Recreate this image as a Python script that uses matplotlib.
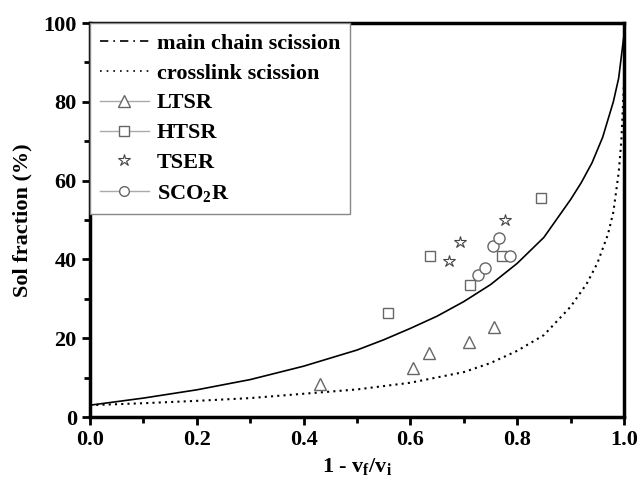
import numpy as np
import matplotlib
matplotlib.use('Agg')
from matplotlib import pyplot as plt
from matplotlib.lines import Line2D
from matplotlib.ticker import MultipleLocator, FormatStrFormatter

plt.rcParams['font.family'] = ['Liberation Serif', 'DejaVu Serif']
plt.rcParams['font.weight'] = 'bold'
plt.rcParams['mathtext.fontset'] = 'custom'
plt.rcParams['mathtext.rm'] = 'Liberation Serif:bold'
plt.rcParams['mathtext.it'] = 'Liberation Serif:bold'
plt.rcParams['mathtext.bf'] = 'Liberation Serif:bold'

# theory curves
main_x = [0.0, 0.1, 0.2, 0.3, 0.4, 0.5, 0.55, 0.6, 0.65, 0.7, 0.75, 0.8,
          0.85, 0.9, 0.92, 0.94, 0.96, 0.98, 0.99, 1.0]
main_y = [3.0, 4.8, 6.9, 9.5, 12.9, 17.0, 19.6, 22.5, 25.6, 29.3, 33.6, 39.0,
          45.6, 55.2, 59.5, 64.5, 71.0, 80.0, 86.0, 97.0]
cross_x = [0.0, 0.1, 0.2, 0.3, 0.4, 0.5, 0.6, 0.7, 0.75, 0.8, 0.85, 0.9,
           0.93, 0.95, 0.97, 0.98, 0.99, 0.995, 1.0]
cross_y = [3.0, 3.5, 4.1, 4.8, 5.9, 7.0, 8.7, 11.4, 13.7, 16.8, 20.8, 28.0,
           33.8, 39.0, 46.4, 52.0, 62.0, 70.0, 85.0]

# measurements
ltsr_x = [0.43, 0.605, 0.635, 0.709, 0.757]
ltsr_y = [8.3, 12.4, 16.3, 19.0, 22.9]
htsr_x = [0.559, 0.637, 0.712, 0.771, 0.845]
htsr_y = [26.5, 40.9, 33.5, 40.9, 55.6]
tser_x = [0.672, 0.693, 0.777]
tser_y = [39.7, 44.3, 49.9]
sco2r_x = [0.727, 0.740, 0.755, 0.766, 0.786]
sco2r_y = [36.1, 37.9, 43.3, 45.5, 40.9]

grey = '#666666'

fig = plt.figure(figsize=(6.4, 4.91), dpi=100)
ax = fig.add_axes([0.1406, 0.1507, 0.8344, 0.8023])

ax.plot(main_x, main_y, color='black', lw=1.2)
ax.plot(cross_x, cross_y, color='black', lw=1.5, linestyle=(0, (1, 2)))

ax.plot(ltsr_x, ltsr_y, linestyle='none', marker='^', ms=9, mfc='white', mec=grey, mew=1.0)
ax.plot(htsr_x, htsr_y, linestyle='none', marker='s', ms=7.5, mfc='white', mec=grey, mew=1.0)
ax.plot(tser_x, tser_y, linestyle='none', marker='*', ms=9, mfc='white', mec='#444444', mew=0.8)
ax.plot(sco2r_x, sco2r_y, linestyle='none', marker='o', ms=8, mfc='white', mec=grey, mew=1.0)

ax.set_xlim(0, 1.0)
ax.set_ylim(0, 100)
ax.xaxis.set_major_locator(MultipleLocator(0.2))
ax.xaxis.set_minor_locator(MultipleLocator(0.1))
ax.yaxis.set_major_locator(MultipleLocator(20))
ax.yaxis.set_minor_locator(MultipleLocator(10))
ax.xaxis.set_major_formatter(FormatStrFormatter('%.1f'))
ax.tick_params(which='major', direction='out', length=6, width=2, labelsize=16)
ax.tick_params(which='minor', direction='out', length=4, width=2)
for s in ax.spines.values():
    s.set_linewidth(2.5)

ax.set_xlabel(r'1 - v$_\mathrm{f}$/v$_\mathrm{i}$', fontsize=16, fontweight='bold', labelpad=4)
ax.set_ylabel('Sol fraction (%)', fontsize=16, fontweight='bold', labelpad=8)

handles = [
    Line2D([], [], color='black', lw=1.2, linestyle=(0, (5, 3, 1, 3))),
    Line2D([], [], color='black', lw=1.2, linestyle=(0, (1, 3))),
    Line2D([], [], color='#aaaaaa', lw=1, marker='^', ms=9, mfc='white', mec=grey),
    Line2D([], [], color='#aaaaaa', lw=1, marker='s', ms=7.5, mfc='white', mec=grey),
    Line2D([], [], linestyle='none', marker='*', ms=9, mfc='white', mec='#444444', mew=0.8),
    Line2D([], [], color='#aaaaaa', lw=1, marker='o', ms=7, mfc='white', mec=grey),
]
labels = ['main chain scission', 'crosslink scission', 'LTSR', 'HTSR', 'TSER', r'SCO$_\mathbf{2}$R']
leg = ax.legend(handles, labels, loc='upper left', borderaxespad=0, fancybox=False,
                edgecolor='#888888', framealpha=1, prop={'size': 16, 'weight': 'bold'},
                handlelength=2.2, handletextpad=0.35, labelspacing=0.42, borderpad=0.45)
leg.get_frame().set_linewidth(1.0)

fig.savefig('out.png', dpi=100)
